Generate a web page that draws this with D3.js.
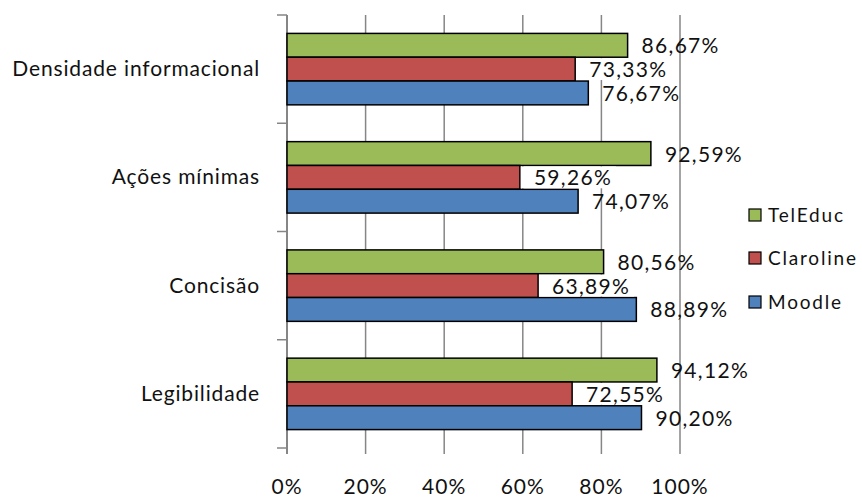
<!DOCTYPE html>
<html>
<head>
<meta charset="utf-8">
<script src="https://cdn.jsdelivr.net/npm/d3@7/dist/d3.min.js"></script>
<style>
  html, body { margin: 0; padding: 0; background: #fff; }
  svg { display: block; font-family: Lato, "Open Sans", sans-serif; }
</style>
</head>
<body>
<svg id="chart" width="862" height="498"></svg>
<script>
const categories = ["Densidade informacional", "Ações mínimas", "Concisão", "Legibilidade"];
const seriesNames = ["TelEduc", "Claroline", "Moodle"];
const seriesColors = ["#9BBB59", "#C0504D", "#4F81BD"];
const telEduc = [86.67, 92.59, 80.56, 94.12];
const claroline = [73.33, 59.26, 63.89, 72.55];
const moodle = [76.67, 74.07, 88.89, 90.20];
const tickValues = [0, 20, 40, 60, 80, 100];
const tickLabels = ["0%", "20%", "40%", "60%", "80%", "100%"];

const seriesValues = [telEduc, claroline, moodle];
const svg = d3.select("#chart");

const x = d3.scaleLinear().domain([0, 100]).range([287, 680]);
const y = d3.scaleBand().domain(categories).range([15, 448]).paddingInner(0.34).paddingOuter(0.17);
const ySub = d3.scaleBand().domain(seriesNames).range([0, y.bandwidth()]);
const fmt = v => v.toFixed(2).replace(".", ",") + "%";

// gridlines
svg.append("g").selectAll("line").data(tickValues).join("line")
  .attr("x1", d => x(d)).attr("x2", d => x(d))
  .attr("y1", 15).attr("y2", 454)
  .attr("stroke", "#868686").attr("stroke-width", 1.5);

// category ticks
const bounds = [15].concat(categories.map(c => y(c) + y.bandwidth() + y.step() * y.paddingInner() / 2));
bounds[bounds.length - 1] = 448;
svg.append("g").selectAll("line").data(bounds).join("line")
  .attr("x1", 277).attr("x2", 287)
  .attr("y1", d => d).attr("y2", d => d)
  .attr("stroke", "#868686").attr("stroke-width", 1.5);

// axis line
svg.append("line").attr("x1", x(0)).attr("x2", x(0)).attr("y1", 15).attr("y2", 454)
  .attr("stroke", "#868686").attr("stroke-width", 2);

// bars
const rows = [];
categories.forEach((c, i) => seriesNames.forEach((s, j) => rows.push({c, s, j, v: seriesValues[j][i]})));

const g = svg.append("g");
g.selectAll("rect.bar").data(rows).join("rect").attr("class", "bar")
  .attr("x", x(0)).attr("y", d => y(d.c) + ySub(d.s))
  .attr("width", d => x(d.v) - x(0)).attr("height", ySub.bandwidth())
  .attr("fill", d => seriesColors[d.j]).attr("stroke", "#000").attr("stroke-width", 1.5);

// labels
const lbl = svg.append("g").selectAll("g").data(rows).join("g");
lbl.append("rect")
  .attr("x", d => x(d.v) + 1).attr("y", d => y(d.c) + ySub(d.s) + 1)
  .attr("width", d => d.j === 1 ? 95 : 0).attr("height", ySub.bandwidth() - 2)
  .attr("fill", "#fff");
lbl.append("text")
  .attr("x", d => x(d.v) + 14).attr("y", d => y(d.c) + ySub(d.s) + ySub.bandwidth() / 2 + 8)
  .attr("font-size", 21).attr("letter-spacing", 1.3).attr("fill", "#111")
  .text(d => fmt(d.v));

// category labels
svg.append("g").selectAll("text").data(categories).join("text")
  .attr("x", 260).attr("y", d => y(d) + y.bandwidth() / 2 + 7)
  .attr("text-anchor", "end").attr("font-size", 21).attr("letter-spacing", 0.85).attr("fill", "#111")
  .text(d => d);

// x tick labels
svg.append("g").selectAll("text").data(tickValues).join("text")
  .attr("x", d => x(d)).attr("y", 494)
  .attr("text-anchor", "middle").attr("font-size", 21).attr("letter-spacing", 1).attr("fill", "#111")
  .text((d, i) => tickLabels[i]);

// legend
const legY = [215, 258, 302];
const leg = svg.append("g").selectAll("g").data(seriesNames).join("g")
  .attr("transform", (d, i) => `translate(749, ${legY[i]})`);
leg.append("rect").attr("x", 0).attr("y", -6).attr("width", 12).attr("height", 12)
  .attr("fill", (d, i) => seriesColors[i]).attr("stroke", "#000").attr("stroke-width", 1.2);
leg.append("text").attr("x", 19).attr("y", 7).attr("font-size", 19).attr("letter-spacing", 1.8).attr("fill", "#111").text(d => d);
</script>
</body>
</html>
